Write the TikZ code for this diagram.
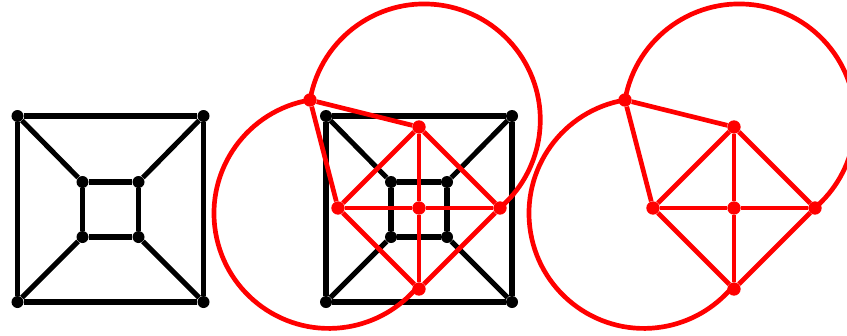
\documentclass[tikz,border=0pt]{standalone}
\usepackage{tikz}
\usetikzlibrary{calc}
\tikzset{
    blkdot/.style={circle,fill=black,inner sep=0pt,minimum size=0.36cm},
    reddot/.style={circle,fill=red,inner sep=0pt,minimum size=0.4cm},
    primal/.style={draw=black,line width=4.3pt},
    dual/.style={draw=red,line width=4pt},
}
\begin{document}
\begin{tikzpicture}[x=0.03cm,y=0.03cm]
    \useasboundingbox (0,0) rectangle (847,-335);
    % cube graph, left and middle
    \foreach \p/\cx in {a/110.5,b/419}{
        \node[blkdot] (\p-1) at (\cx-93,-116) {};
        \node[blkdot] (\p-2) at (\cx+93,-116) {};
        \node[blkdot] (\p-3) at (\cx+93,-302) {};
        \node[blkdot] (\p-4) at (\cx-93,-302) {};
        \node[blkdot] (\p-5) at (\cx-28,-182) {};
        \node[blkdot] (\p-6) at (\cx+28,-182) {};
        \node[blkdot] (\p-7) at (\cx+28,-237) {};
        \node[blkdot] (\p-8) at (\cx-28,-237) {};
        \draw[primal] (\p-1)--(\p-2)--(\p-3)--(\p-4)--(\p-1);
        \draw[primal] (\p-5)--(\p-6)--(\p-7)--(\p-8)--(\p-5);
        \draw[primal] (\p-1)--(\p-5) (\p-2)--(\p-6) (\p-3)--(\p-7) (\p-4)--(\p-8);
    }
    % dual graph, middle and right
    \foreach \p/\dx in {m/0,r/315}{
        \begin{scope}[shift={(\dx,0)}]
            \node[reddot] (\p-o) at (310,-100) {};
            \node[reddot] (\p-t) at (419,-127) {};
            \node[reddot] (\p-l) at (338,-208) {};
            \node[reddot] (\p-c) at (419,-208) {};
            \node[reddot] (\p-e) at (500,-208) {};
            \node[reddot] (\p-s) at (419,-289) {};
        \end{scope}
        \draw[dual] (\p-o)--(\p-t) (\p-o)--(\p-l);
        \draw[dual] (\p-l)--(\p-t)--(\p-e)--(\p-s)--(\p-l);
        \draw[dual] (\p-l)--(\p-c)--(\p-e) (\p-t)--(\p-c)--(\p-s);
        % loops of the outer face
        \draw[dual] (\p-o) arc[start angle=170.1,end angle=-49.6,radius=116];
        \draw[dual] (\p-o) arc[start angle=99.5,end angle=319.8,radius=115];
    }
\end{tikzpicture}
\end{document}
